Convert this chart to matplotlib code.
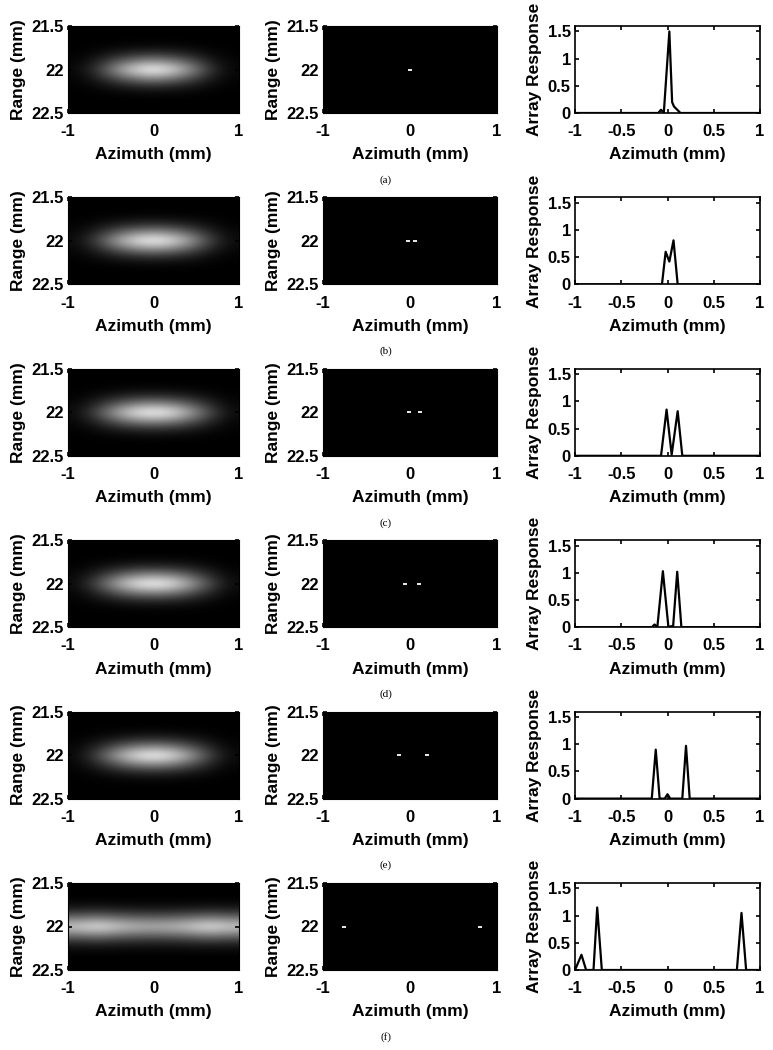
import matplotlib.pyplot as plt
import numpy as np

plt.rcParams['font.family'] = ['Liberation Sans', 'DejaVu Sans']
plt.rcParams['font.weight'] = 'bold'

panel_tags = ['(a)', '(b)', '(c)', '(d)', '(e)', '(f)']

# beam image (left column): lateral brightness across azimuth, range profile
beam_az = [-1, -0.75, -0.5, -0.25, 0, 0.25, 0.5, 0.75, 1]
beam_lat = [
    [0.03, 0.2, 0.55, 0.85, 1.0, 0.85, 0.55, 0.2, 0.03],
    [0.05, 0.25, 0.6, 0.88, 1.0, 0.88, 0.6, 0.25, 0.05],
    [0.05, 0.28, 0.62, 0.9, 1.0, 0.9, 0.62, 0.28, 0.05],
    [0.05, 0.28, 0.62, 0.9, 1.0, 0.9, 0.62, 0.28, 0.05],
    [0.04, 0.25, 0.6, 0.88, 1.0, 0.88, 0.6, 0.25, 0.04],
    [0.8, 0.9, 0.8, 0.72, 0.7, 0.72, 0.8, 0.9, 0.8],
]
beam_rng = [21.5, 21.7, 21.8, 21.9, 21.95, 22.0, 22.05, 22.1, 22.2, 22.3, 22.5]
beam_rng_prof = [0.0, 0.0, 0.03, 0.2, 0.6, 1.0, 0.6, 0.2, 0.03, 0.0, 0.0]

# reconstructed scatterers (middle column)
dots_x = [
    [0.0],
    [-0.02, 0.06],
    [-0.01, 0.11],
    [-0.06, 0.1],
    [-0.13, 0.2],
    [-0.76, 0.8],
]

# array response (right column)
resp_x = [
    [-1, -0.1, -0.07, -0.04, 0.02, 0.05, 0.07, 0.14, 1],
    [-1, -0.06, -0.02, 0.02, 0.065, 0.11, 1],
    [-1, -0.07, -0.01, 0.045, 0.11, 0.16, 1],
    [-1, -0.17, -0.14, -0.11, -0.05, 0.01, 0.04, 0.06, 0.105, 0.15, 1],
    [-1, -0.17, -0.127, -0.085, -0.03, 0.0, 0.03, 0.16, 0.2, 0.24, 1],
    [-1, -0.93, -0.88, -0.8, -0.76, -0.71, 0.75, 0.8, 0.85, 1],
]
resp_y = [
    [0, 0, 0.06, 0, 1.5, 0.2, 0.12, 0, 0],
    [0, 0, 0.6, 0.42, 0.81, 0, 0],
    [0, 0, 0.85, 0.02, 0.82, 0, 0],
    [0, 0, 0.05, 0, 1.03, 0, 0.02, 0, 1.02, 0, 0],
    [0, 0, 0.9, 0, 0, 0.08, 0, 0, 0.97, 0, 0],
    [0, 0.28, 0, 0, 1.15, 0, 0, 1.05, 0, 0],
]

W, H = 773, 1050
fig = plt.figure(figsize=(W / 100, H / 100), dpi=100)

def box(x0, x1, top, bot):
    return [x0 / W, 1 - bot / H, (x1 - x0) / W, (bot - top) / H]

def style(ax):
    ax.tick_params(direction='in', labelsize=12, width=1.2, length=3,
                   top=True, right=True)
    ax.tick_params(axis='x', pad=8)
    ax.tick_params(axis='y', pad=3)
    ax.set_xlabel('Azimuth (mm)', fontsize=12.5, fontweight='bold', labelpad=6)

for i in range(6):
    top = 26 + 171.4 * i
    bot = top + 87

    # left: beam image
    ax = fig.add_axes(box(68, 239, top, bot))
    img = np.outer(beam_rng_prof, beam_lat[i])
    ax.imshow(img, cmap='gray', aspect='auto', interpolation='bicubic',
              extent=[-1, 1, beam_rng[-1], beam_rng[0]], vmin=0, vmax=1)
    ax.set_ylim(22.5, 21.5)
    ax.set_xlim(-1, 1)
    ax.set_xticks([-1, 0, 1])
    ax.set_xticklabels(['-1', '0', '1'])
    ax.set_yticks([21.5, 22, 22.5])
    ax.set_yticklabels(['21.5', '22', '22.5'])
    style(ax)
    ax.set_ylabel('Range (mm)', fontsize=12.5, fontweight='bold', labelpad=4)

    # middle: reconstructed image
    ax = fig.add_axes(box(323, 497, top, bot))
    ax.set_facecolor('black')
    ax.plot(dots_x[i], [22] * len(dots_x[i]), linestyle='none', marker='_',
            color='white', markersize=3, markeredgewidth=1.3)
    ax.set_ylim(22.5, 21.5)
    ax.set_xlim(-1, 1)
    ax.set_xticks([-1, 0, 1])
    ax.set_xticklabels(['-1', '0', '1'])
    ax.set_yticks([21.5, 22, 22.5])
    ax.set_yticklabels(['21.5', '22', '22.5'])
    style(ax)
    ax.set_ylabel('Range (mm)', fontsize=12.5, fontweight='bold', labelpad=4)

    # right: array response
    ax = fig.add_axes(box(575, 760, top, bot))
    ax.plot(resp_x[i], resp_y[i], color='black', linewidth=1.6)
    ax.set_xlim(-1, 1)
    ax.set_ylim(0, 1.6)
    ax.set_xticks([-1, -0.5, 0, 0.5, 1])
    ax.set_xticklabels(['-1', '-0.5', '0', '0.5', '1'])
    ax.set_yticks([0, 0.5, 1, 1.5])
    ax.set_yticklabels(['0', '0.5', '1', '1.5'])
    style(ax)
    for s in ax.spines.values():
        s.set_linewidth(1.2)
    ax.set_ylabel('Array Response', fontsize=12.5, fontweight='bold', labelpad=4)

    fig.text(386 / W, 1 - (bot + 67) / H, panel_tags[i], ha='center',
             va='center', fontsize=8, family='Liberation Serif',
             fontweight='normal')

fig.savefig('out.png', dpi=100)
